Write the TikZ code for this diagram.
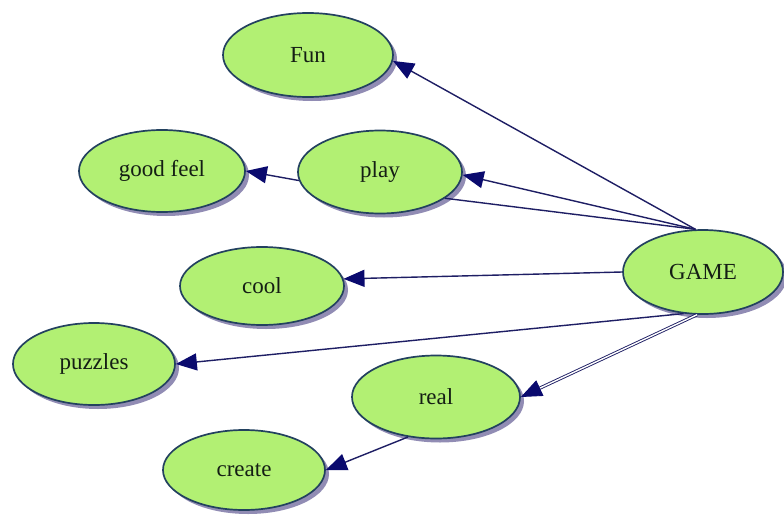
\documentclass[tikz,border=0pt]{standalone}
\usepackage{fontspec}
\setmainfont{Liberation Serif}
\usetikzlibrary{shapes.geometric,shadows,arrows.meta}
\definecolor{nodefill}{RGB}{178,240,115}
\definecolor{nodeborder}{RGB}{35,65,95}
\definecolor{shadowc}{RGB}{145,140,180}
\definecolor{edgec}{RGB}{30,30,100}
\definecolor{arrowc}{RGB}{10,10,110}
\definecolor{textc}{RGB}{20,30,20}
\begin{document}
\begin{tikzpicture}[x=1pt,y=-1pt,
  bubble/.style={ellipse, draw=nodeborder, line width=1.7pt, fill=nodefill,
    inner sep=0pt, font=\fontsize{23}{26}\selectfont, text=textc,
    drop shadow={shadow xshift=4pt,shadow yshift=-4pt,fill=shadowc,opacity=1}},
  plainedge/.style={draw=edgec, line width=1.4pt},
  link/.style={plainedge, -{Triangle[length=21pt,width=17pt,color=arrowc]}}]
\useasboundingbox (0,0) rectangle (784,519);
\fill[white] (0,0) rectangle (784,519);
\node[bubble, minimum width=170pt, minimum height=84pt] (Fun) at (308,55) {Fun};
\node[bubble, minimum width=166pt, minimum height=82pt] (goodfeel) at (162,171) {good feel};
\node[bubble, minimum width=164pt, minimum height=83pt] (play) at (380,172) {play};
\node[bubble, minimum width=164pt, minimum height=78pt] (cool) at (262,286) {cool};
\node[bubble, minimum width=160pt, minimum height=84pt] (GAME) at (703,272) {GAME};
\node[bubble, minimum width=162pt, minimum height=82pt] (puzzles) at (94,364) {puzzles};
\node[bubble, minimum width=168pt, minimum height=83pt] (real) at (436,397) {real};
\node[bubble, minimum width=162pt, minimum height=80pt] (create) at (244,470) {create};
\draw[link] (GAME.100) -- (Fun.-4);
\draw[link] (GAME.100) -- (play.-2);
\draw[plainedge] (play.-22) -- (GAME.100);
\draw[link] (play.186) -- (goodfeel.east);
\draw[link] (GAME.west) -- (cool.5);
\draw[link] (GAME.-115) -- (puzzles.east);
\draw[link, line width=0.9pt, double=white, double distance=1.4pt] (GAME.-98) -- (real.east);
\draw[link] (real.-125) -- (create.east);
\end{tikzpicture}
\end{document}
